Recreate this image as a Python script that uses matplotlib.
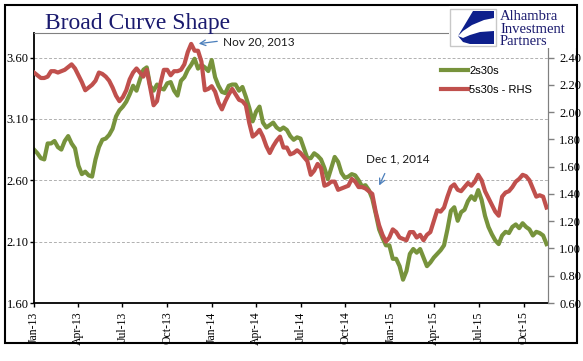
import numpy as np
import pandas as pd
import matplotlib
matplotlib.use('Agg')
import matplotlib.pyplot as plt
import matplotlib.dates as mdates
from matplotlib.patches import Rectangle, Polygon

# weekly readings, Jan 2013 - Nov 2015
dates = pd.date_range('2013-01-01', periods=151, freq='7D')

# 2s30s (left axis)
s2s30s = [
    2.85, 2.82, 2.78, 2.77, 2.90, 2.90, 2.92, 2.87, 2.85, 2.92,
    2.96, 2.90, 2.86, 2.72, 2.65, 2.67, 2.64, 2.63, 2.77, 2.87,
    2.93, 2.94, 2.97, 3.02, 3.12, 3.17, 3.20, 3.24, 3.30, 3.37,
    3.33, 3.42, 3.50, 3.52, 3.37, 3.33, 3.38, 3.35, 3.34, 3.39,
    3.40, 3.33, 3.29, 3.41, 3.44, 3.50, 3.54, 3.59, 3.51, 3.54,
    3.52, 3.49, 3.58, 3.44, 3.37, 3.32, 3.31, 3.37, 3.38, 3.38,
    3.33, 3.36, 3.28, 3.19, 3.08, 3.16, 3.20, 3.07, 3.03, 3.05,
    3.07, 3.03, 3.01, 3.03, 3.01, 2.96, 2.93, 2.95, 2.94, 2.86,
    2.78, 2.78, 2.82, 2.80, 2.77, 2.70, 2.61, 2.70, 2.79, 2.75,
    2.66, 2.62, 2.63, 2.65, 2.64, 2.60, 2.55, 2.56, 2.52, 2.45,
    2.33, 2.20, 2.13, 2.07, 2.07, 1.96, 1.96, 1.90, 1.79, 1.86,
    2.00, 2.04, 2.01, 2.04, 1.97, 1.90, 1.93, 1.97, 2.00, 2.03,
    2.07, 2.20, 2.35, 2.38, 2.27, 2.34, 2.36, 2.43, 2.47, 2.44,
    2.52, 2.44, 2.31, 2.22, 2.16, 2.11, 2.08, 2.15, 2.18, 2.17,
    2.22, 2.24, 2.21, 2.25, 2.22, 2.20, 2.15, 2.18, 2.17, 2.15,
    2.08,
]

# 5s30s (right axis)
s5s30s = [
    2.29, 2.27, 2.25, 2.25, 2.26, 2.30, 2.30, 2.29, 2.30, 2.31,
    2.33, 2.35, 2.32, 2.27, 2.22, 2.16, 2.18, 2.20, 2.23, 2.29,
    2.28, 2.26, 2.23, 2.18, 2.12, 2.08, 2.11, 2.16, 2.24, 2.29,
    2.32, 2.29, 2.26, 2.31, 2.18, 2.05, 2.08, 2.21, 2.31, 2.31,
    2.27, 2.30, 2.30, 2.31, 2.35, 2.44, 2.50, 2.45, 2.45, 2.37,
    2.16, 2.17, 2.19, 2.15, 2.07, 2.02, 2.08, 2.13, 2.17, 2.13,
    2.09, 2.08, 2.05, 1.92, 1.82, 1.84, 1.87, 1.82, 1.75, 1.70,
    1.75, 1.79, 1.82, 1.74, 1.74, 1.69, 1.70, 1.72, 1.70, 1.67,
    1.64, 1.54, 1.57, 1.62, 1.59, 1.46, 1.47, 1.49, 1.49, 1.43,
    1.44, 1.45, 1.46, 1.51, 1.49, 1.45, 1.45, 1.44, 1.42, 1.40,
    1.27, 1.17, 1.10, 1.05, 1.08, 1.14, 1.12, 1.08, 1.07, 1.06,
    1.12, 1.12, 1.08, 1.10, 1.06, 1.10, 1.12, 1.20, 1.28, 1.27,
    1.30, 1.38, 1.45, 1.47, 1.43, 1.42, 1.45, 1.48, 1.46, 1.49,
    1.54, 1.50, 1.42, 1.37, 1.32, 1.27, 1.24, 1.38, 1.41, 1.42,
    1.45, 1.49, 1.51, 1.54, 1.53, 1.50, 1.44, 1.38, 1.39, 1.38,
    1.30,
]

left_ticks = [1.60, 2.10, 2.60, 3.10, 3.60]
right_ticks = [0.60, 0.80, 1.00, 1.20, 1.40, 1.60, 1.80, 2.00, 2.20, 2.40]
quarters = pd.date_range('2013-01-01', '2015-10-01', freq='QS')

GREEN = '#77933c'
RED = '#c0504d'
NAVY = '#1a1a6e'
ARROW = '#4a7ebb'

plt.rcParams['font.family'] = 'Liberation Serif'

W, H = 583, 361
fig = plt.figure(figsize=(W / 100, H / 100), dpi=100)
ax = fig.add_axes([34 / W, 1 - 303 / H, 514 / W, 270 / H])
ax2 = ax.twinx()

ax.plot(dates, s2s30s, color=GREEN, lw=3.0, label='2s30s')
ax2.plot(dates, s5s30s, color=RED, lw=3.0, label='5s30s - RHS')

ax.set_xlim(pd.Timestamp('2013-01-01'), pd.Timestamp('2015-11-20'))
ax.set_ylim(1.60, 3.80)
ax2.set_ylim(0.60, 2.58)
ax.set_yticks(left_ticks)
ax2.set_yticks(right_ticks)
ax.yaxis.set_major_formatter(matplotlib.ticker.FormatStrFormatter('%.2f'))
ax2.yaxis.set_major_formatter(matplotlib.ticker.FormatStrFormatter('%.2f'))
ax.set_xticks(quarters)
ax.xaxis.set_major_formatter(mdates.DateFormatter('%b-%y'))
ax.yaxis.grid(True, ls=(0, (3, 2)), color='#b0b0b0', lw=0.7)

for sp in ['top', 'right']:
    ax.spines[sp].set_color('#808080')
for sp in ['left', 'bottom']:
    ax.spines[sp].set_linewidth(1.3)
for sp in ['left', 'bottom', 'top']:
    ax2.spines[sp].set_visible(False)
ax2.spines['right'].set_color('#808080')

ax.tick_params(axis='y', length=3, width=1, pad=1, labelsize=9)
ax.tick_params(axis='x', length=3, width=1, pad=3, labelsize=8.5, labelrotation=90)
ax2.tick_params(axis='y', length=4, width=1, color='#808080', pad=4, labelsize=9)

h1, l1 = ax.get_legend_handles_labels()
h2, l2 = ax2.get_legend_handles_labels()
ax2.legend(h1 + h2, l1 + l2, loc='upper left', bbox_to_anchor=(441 / W, 1 - 66 / H),
           bbox_transform=fig.transFigure, frameon=False,
           prop=dict(family='Liberation Sans', size=8), handlelength=2.4,
           handletextpad=0.15, labelspacing=0.8, borderpad=0, borderaxespad=0)

# overlay in figure pixels for frame, title, logo and notes
ov = fig.add_axes([0, 0, 1, 1], zorder=10)
ov.set_xlim(0, W)
ov.set_ylim(H, 0)
ov.axis('off')
ov.patch.set_alpha(0)

ov.add_patch(Rectangle((5, 5), 572, 338, fill=False, ec='black', lw=1.5))
ov.add_patch(Rectangle((449, 6), 127, 42, fc='white', ec='none'))

ov.text(138, 29, 'Broad Curve Shape', ha='center', va='baseline',
        fontsize=17, color=NAVY)

# logo
ov.add_patch(Rectangle((450, 9), 46, 37, fc='white', ec='#c8c8c8', lw=1))
ov.add_patch(Polygon([(473, 11), (494, 11), (494, 18), (484, 20), (472, 25),
                      (463, 31), (458, 36)], closed=True, fc='#0d1f8c', ec='none'))
ov.add_patch(Polygon([(458, 36), (463, 38), (470, 35), (480, 32), (494, 31),
                      (494, 44), (470, 44), (463, 42)], closed=True,
                     fc='#0d1f8c', ec='none'))
for txt, yy in [('Alhambra', 20), ('Investment', 33), ('Partners', 45)]:
    ov.text(500, yy, txt, ha='left', va='baseline', fontsize=10.5, color=NAVY)

# annotations
ov.annotate('', xy=(196, 44), xytext=(220, 41),
            arrowprops=dict(arrowstyle='->', color=ARROW, lw=0.9))
ov.text(223, 42, 'Nov 20, 2013', ha='left', va='center', fontsize=8.5,
        family='Lato', color='#1a1a1a')
ov.annotate('', xy=(378, 188), xytext=(386, 171),
            arrowprops=dict(arrowstyle='->', color=ARROW, lw=0.9))
ov.text(398, 159, 'Dec 1, 2014', ha='center', va='center', fontsize=8.5,
        family='Lato', color='#1a1a1a')

fig.savefig('out.png', dpi=100)
